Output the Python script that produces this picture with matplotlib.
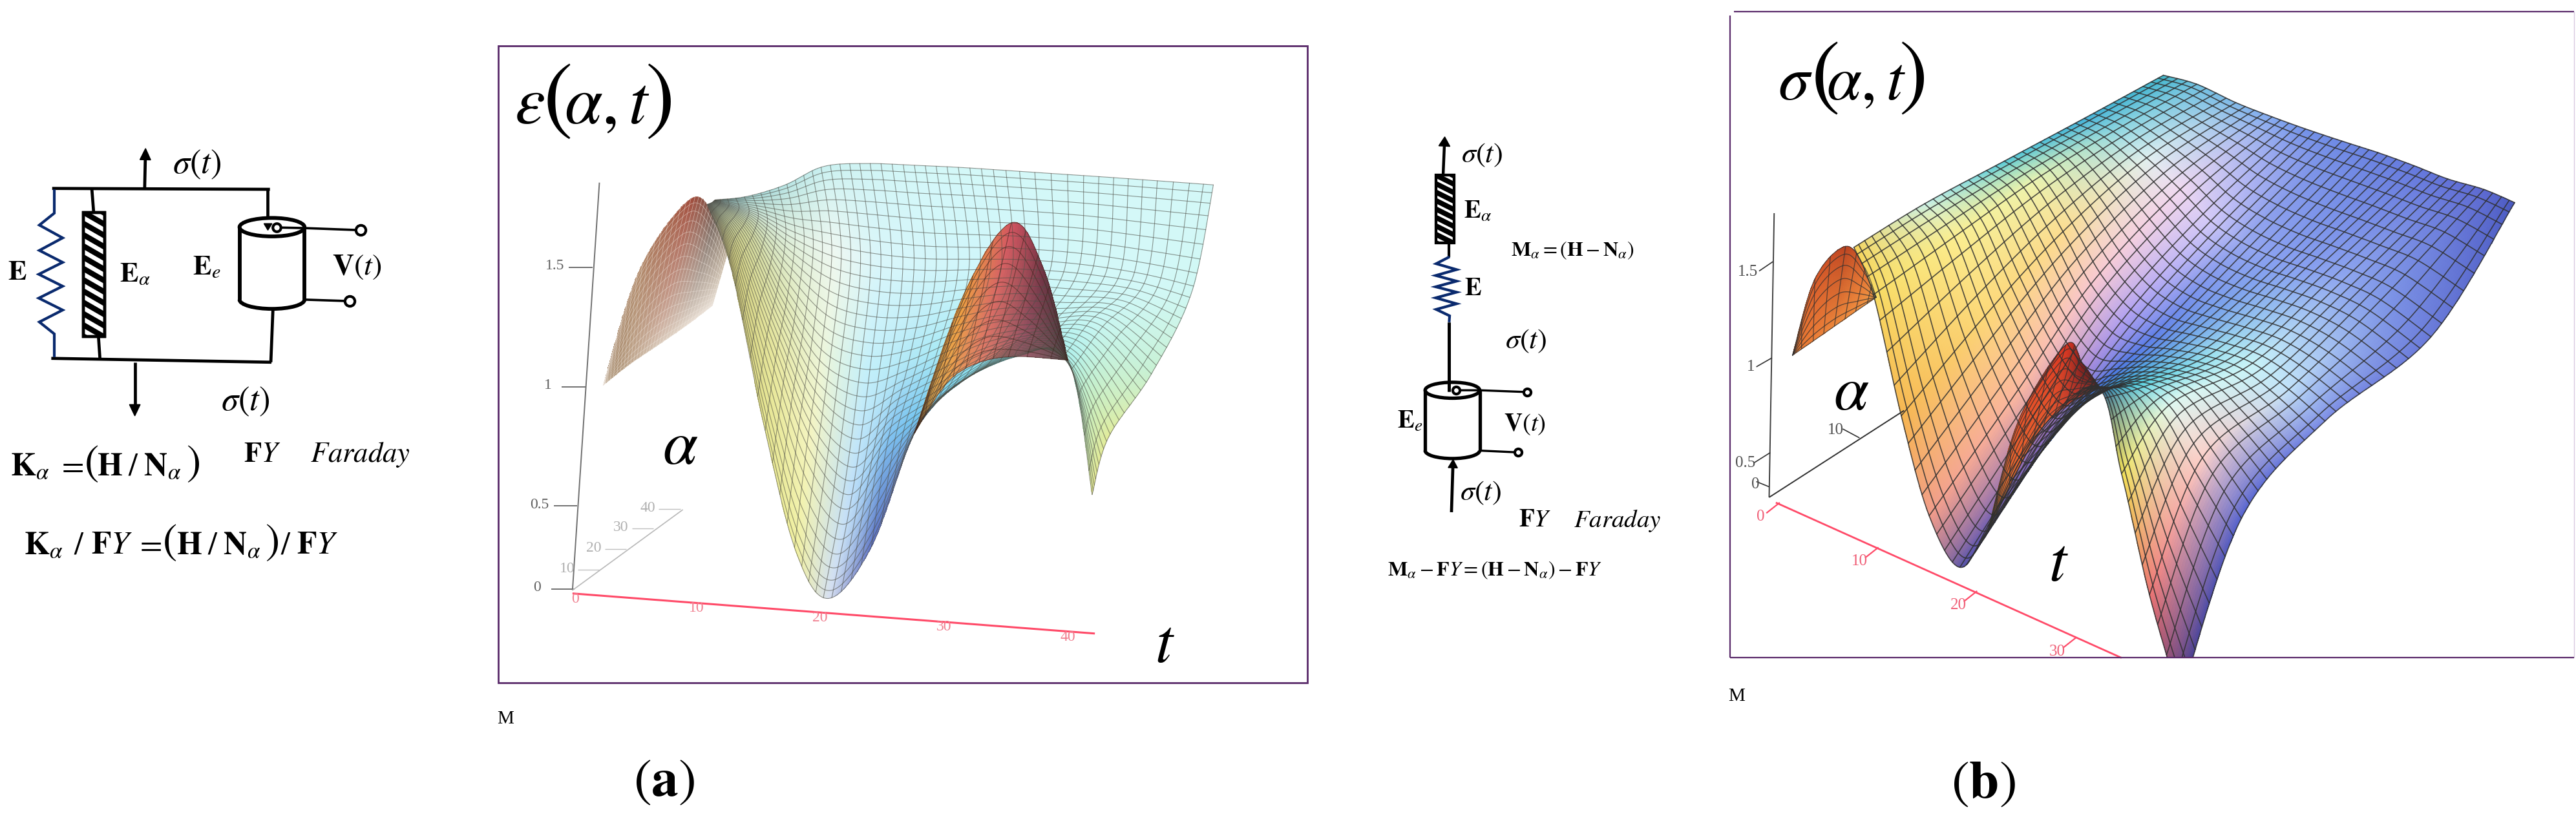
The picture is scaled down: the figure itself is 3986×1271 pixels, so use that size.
import numpy as np
import matplotlib
matplotlib.use("Agg")
import matplotlib.pyplot as plt
from matplotlib.colors import to_rgb
from matplotlib.patches import Rectangle, Ellipse, Arc

W, H = 3986, 1271

# surface (a), rows go front -> back, columns t small -> large
a_main_x = [[425, 470, 530, 590, 650, 730, 810, 880, 1000, 1095, 1140],
            [430, 480, 550, 615, 690, 760, 830, 900, 1010, 1100, 1170],
            [435, 500, 570, 640, 720, 800, 880, 960, 1050, 1150, 1250],
            [438, 510, 585, 660, 740, 830, 920, 1010, 1120, 1230, 1325],
            [440, 500, 570, 640, 720, 810, 900, 1000, 1130, 1250, 1365]]
a_main_y = [[378, 520, 860, 1140, 1243, 1130, 880, 780, 712, 720, 1015],
            [376, 470, 700, 900, 1000, 900, 830, 760, 690, 720, 890],
            [373, 430, 580, 700, 740, 720, 680, 650, 640, 640, 750],
            [370, 395, 445, 480, 500, 510, 510, 510, 520, 540, 570],
            [368, 360, 335, 295, 288, 292, 297, 305, 315, 325, 335]]
a_main_c = [['#7f6a60', '#c8c070', '#e6e58f', '#f0f0a0', '#d8e0f0', '#5a6cc0', '#7080c8', '#60c0d0', '#70d0d8', '#90e0d8', '#e8e890'],
            ['#80908a', '#d0d088', '#e8e8a0', '#f4f4c0', '#c0e0f8', '#80c0f0', '#70c8f0', '#80dcf0', '#90e8f0', '#b0f0e8', '#e4ec98'],
            ['#a0b8b0', '#d0d8a0', '#e0e8b8', '#ecf6dc', '#c4f0fa', '#b0e8f6', '#a8ecf6', '#b8f2f6', '#c0f6f6', '#c8f6f2', '#c8f0d0'],
            ['#a0c8c8', '#c8e0d0', '#e0f0e0', '#eef8f2', '#daf6fa', '#d4f6fa', '#d0f6fa', '#d0f6fa', '#d4f8f8', '#d4f8f8', '#d0f8f4'],
            ['#70b0b8', '#a0d0d0', '#b8e4e4', '#c8f0f0', '#d0f4f4', '#d4f8f8', '#d4f8f8', '#d4f8f8', '#d4f8f8', '#d4f8f8', '#d4f8f8']]

a_left_x = [[232, 280, 330, 385, 435], [232, 300, 395, 440, 462]]
a_left_y = [[775, 730, 690, 645, 600], [775, 520, 365, 410, 490]]
a_left_c = [['#a08868', '#c0a890', '#d8c8b8', '#e8dcd0', '#ece4dc'],
            ['#8f7050', '#b08868', '#a04838', '#706058', '#c0b098']]

a_lobe_x = [[810, 870, 930, 1000, 1095], [810, 900, 990, 1050, 1095]]
a_lobe_y = [[880, 770, 725, 712, 720], [880, 580, 418, 520, 720]]
a_lobe_c = [['#c0b060', '#e8a050', '#e08068', '#a86070', '#505050'],
            ['#e0b050', '#f0a040', '#d05060', '#6a3040', '#383838']]

# surface (b)
b_main_x = [[265, 300, 350, 400, 455, 505, 590, 700, 745, 795, 850],
            [392, 445, 500, 560, 610, 660, 710, 770, 830, 890, 960],
            [535, 585, 640, 690, 745, 800, 850, 915, 980, 1045, 1110],
            [678, 730, 790, 850, 905, 960, 1020, 1075, 1140, 1210, 1300],
            [820, 880, 950, 1015, 1075, 1140, 1205, 1270, 1330, 1395, 1450]]
b_main_y = [[470, 560, 790, 980, 1078, 1000, 830, 735, 900, 1130, 1330],
            [387, 450, 600, 740, 820, 780, 745, 730, 770, 870, 985],
            [306, 345, 440, 540, 610, 640, 650, 665, 690, 740, 800],
            [225, 250, 300, 360, 420, 460, 490, 510, 535, 570, 640],
            [143, 160, 195, 222, 245, 268, 290, 315, 340, 360, 385]]
b_main_c = [['#f8d458', '#f8da60', '#f6b450', '#f09a8a', '#5a55a8', '#3a40a8', '#3c50c0', '#1f5a9a', '#f4e050', '#ea7070', '#40307a'],
            ['#c8f0e8', '#fbee90', '#fcd878', '#fbb8a0', '#9a70c0', '#3c70e0', '#30a0d8', '#50d0e0', '#e0f8f0', '#fcd0c8', '#5060d0'],
            ['#50c8d8', '#ecf4b0', '#fcdc90', '#f8c8d0', '#b0a0f0', '#6080e8', '#70a8e8', '#a0e0f0', '#c8f4f8', '#c0e0f8', '#7888e4'],
            ['#40b0d8', '#90d8e0', '#e0f0f0', '#f0d8f0', '#d0c8f8', '#98a8f0', '#88a0f0', '#88a0f0', '#90a8f0', '#8098e8', '#6878d8'],
            ['#40b8c8', '#70c0e0', '#80b8e8', '#80a8f0', '#7090e8', '#6c88e4', '#6880e0', '#6478dc', '#6070d8', '#5c68d0', '#4858c0']]

b_left_x = [[155, 192, 230, 268, 305], [155, 195, 250, 285, 305]]
b_left_y = [[675, 648, 620, 592, 565], [675, 530, 468, 510, 565]]
b_left_c = [['#e87830', '#ec8038', '#ee8a3c', '#f09040', '#f0a048'],
            ['#e87830', '#d85828', '#b84020', '#e06c30', '#f0a048']]

b_lobe_x = [[505, 555, 605, 655, 705], [505, 560, 645, 675, 705]]
b_lobe_y = [[1010, 900, 810, 765, 735], [1010, 800, 655, 690, 735]]
b_lobe_c = [['#d88030', '#e86a30', '#e86030', '#d84030', '#803030'],
            ['#e88838', '#e85028', '#d83020', '#701c1c', '#302020']]

# axis ticks
a_z_vals = ['1.5', '1', '0.5', '0']
a_z_y = [516, 778, 1040, 1222]
a_z_x = [168, 155, 140, 135]
a_back_vals = ['10', '20', '30', '40']
a_back_x = [165, 215, 265, 315]
a_back_y = [1178, 1133, 1087, 1045]
a_t_vals = ['0', '10', '20', '30', '40']
a_t_x = [180, 405, 635, 865, 1095]
a_t_y = [1245, 1265, 1285, 1305, 1328]

b_z_vals = ['1.5', '1', '0.5', '0']
b_z_x = [75, 80, 70, 88]
b_z_y = [517, 697, 880, 920]
b_t_vals = ['0', '10', '20', '30']
b_t_x = [98, 275, 452, 630]
b_t_y = [982, 1067, 1150, 1238]

# circuit (left)
c1_spring_x = [182, 182, 132, 210, 132, 210, 130, 210, 130, 210, 132, 182, 182]
c1_spring_y = [245, 325, 365, 408, 450, 490, 530, 570, 610, 650, 690, 730, 808]
# circuit (middle)
c2_spring_x = [508, 510, 452, 540, 450, 540, 450, 540, 450, 540, 452, 510, 508]
c2_spring_y = [140, 195, 222, 245, 268, 290, 312, 333, 355, 378, 400, 425, 450]

plt.rcParams['mathtext.fontset'] = 'stix'
plt.rcParams['font.family'] = ['Liberation Serif', 'DejaVu Serif']

FRAME = '#5a2a6a'
WIRE = 'black'
SPRING = '#0a2a6e'
RED = '#ff4a68'
GREY = '#707070'

fig = plt.figure(figsize=(W / 100, H / 100), dpi=100, facecolor='white')


def panel(x, y, w, h):
    # axes over a crop of the picture, each side runs 0..1560
    ax = fig.add_axes([x / W, 1 - (y + h) / H, w / W, h / H])
    ax.set_xlim(0, 1560)
    ax.set_ylim(1560, 0)
    ax.axis('off')
    ax.patch.set_alpha(0)
    return ax


def cr_resample(table, n, axis):
    # catmull-rom along one axis of the table
    t = np.moveaxis(np.asarray(table, float), axis, 0)
    m = t.shape[0]
    s = np.linspace(0, m - 1, n)
    i = np.clip(np.floor(s).astype(int), 0, m - 2)
    f = s - i
    shape = (-1,) + (1,) * (t.ndim - 1)
    f = f.reshape(shape)
    p0 = t[np.clip(i - 1, 0, m - 1)]
    p1 = t[i]
    p2 = t[i + 1]
    p3 = t[np.clip(i + 2, 0, m - 1)]
    out = 0.5 * (2 * p1 + (p2 - p0) * f + (2 * p0 - 5 * p1 + 4 * p2 - p3) * f ** 2
                 + (3 * p1 - p0 - 3 * p2 + p3) * f ** 3)
    return np.moveaxis(out, 0, axis)


def lin_resample(table, n, axis):
    t = np.moveaxis(np.asarray(table, float), axis, 0)
    m = t.shape[0]
    s = np.linspace(0, m - 1, n)
    i = np.clip(np.floor(s).astype(int), 0, m - 2)
    f = (s - i).reshape((-1,) + (1,) * (t.ndim - 1))
    out = t[i] * (1 - f) + t[i + 1] * f
    return np.moveaxis(out, 0, axis)


def sheet(ax, xs, ys, cs, nu, nv, line='#303030', lw=0.8, alpha=0.8, clip=None):
    ov = 6
    fu, fv = nu * ov + 1, nv * ov + 1
    X = cr_resample(cr_resample(xs, fu, 1), fv, 0)
    Y = cr_resample(cr_resample(ys, fu, 1), fv, 0)
    rgb = np.array([[to_rgb(c) for c in row] for row in cs])
    C = lin_resample(lin_resample(rgb, fu, 1), fv, 0)
    C = np.clip(C[:-1, :-1], 0, 1)
    m = ax.pcolormesh(X, Y, C, shading='flat', antialiased=False, linewidth=0, rasterized=False)
    arts = [m]
    for i in range(0, fv, ov):
        arts += ax.plot(X[i], Y[i], color=line, lw=lw, alpha=alpha, solid_capstyle='round')
    for j in range(0, fu, ov):
        arts += ax.plot(X[:, j], Y[:, j], color=line, lw=lw, alpha=alpha, solid_capstyle='round')
    if clip is not None:
        for art in arts:
            art.set_clip_path(clip)


def txt(ax, x, y, s, size, **kw):
    ax.text(x, y, s, fontsize=size, ha='center', va='center', clip_on=False, **kw)


def parts(ax, y, items):
    # one formula set piece by piece on a common baseline, so the brackets can be taller
    for x, s, size in items:
        ax.text(x, y, s, fontsize=size, ha='center', va='baseline', clip_on=False)


def wire(ax, x, y, lw=3.4, color=WIRE):
    ax.plot(x, y, color=color, lw=lw, solid_capstyle='butt', solid_joinstyle='miter', clip_on=False)


def arrow(ax, x0, y0, x1, y1, hw, hl, lw=3.4):
    d = np.array([x1 - x0, y1 - y0], float)
    d /= np.hypot(*d)
    n = np.array([-d[1], d[0]])
    tip = np.array([x1, y1])
    base = tip - d * hl
    wire(ax, [x0, base[0]], [y0, base[1]], lw=lw)
    tri = np.array([tip, base + n * hw, base - n * hw])
    ax.fill(tri[:, 0], tri[:, 1], color='black', clip_on=False)


def dashpot(ax, x0, y0, x1, y1, nstripe, lw=3.2):
    rect = Rectangle((x0, y0), x1 - x0, y1 - y0, fc='white', ec='black', lw=lw, clip_on=False, zorder=3)
    ax.add_patch(rect)
    dy = (y1 - y0) / nstripe
    for k in range(-1, nstripe + 1):
        ln, = ax.plot([x0, x1], [y0 + k * dy, y0 + (k + 1.1) * dy], color='black', lw=lw * 1.9)
        ln.set_clip_path(rect)
        ln.set_zorder(3.1)
    ax.add_patch(Rectangle((x0, y0), x1 - x0, y1 - y0, fc='none', ec='black', lw=lw, clip_on=False, zorder=3.2))


def cylinder(ax, cx, top, bot, w, h, lw=4.2):
    ax.add_patch(Ellipse((cx, top), w, h, fc='white', ec='black', lw=lw, clip_on=False))
    wire(ax, [cx - w / 2, cx - w / 2], [top, bot], lw=lw)
    wire(ax, [cx + w / 2, cx + w / 2], [top, bot], lw=lw)
    ax.add_patch(Arc((cx, bot), w, h, theta1=0, theta2=180, ec='black', lw=lw, clip_on=False))


def node(ax, x, y, ms=11):
    ax.plot([x], [y], 'o', ms=ms, mfc='white', mec='black', mew=3, clip_on=False, zorder=5)


# left circuit
ax1 = panel(0, 180, 720, 720)
wire(ax1, [175, 905], [242, 245])
wire(ax1, [898, 898], [245, 345])
wire(ax1, [172, 910], [812, 825])
wire(ax1, [915, 908], [650, 825])
wire(ax1, [308, 314], [245, 322])
wire(ax1, [330, 335], [738, 812])
arrow(ax1, 485, 240, 488, 108, 18, 38)
arrow(ax1, 452, 825, 452, 1005, 18, 38)
wire(ax1, c1_spring_x, c1_spring_y, lw=3.0, color=SPRING)
dashpot(ax1, 280, 322, 352, 738, 11)
cylinder(ax1, 912, 372, 615, 218, 62)
ax1.fill([885, 912, 898], [360, 360, 382], color='black')
wire(ax1, [927, 1020, 1208], [373, 375, 382], lw=2.6)
wire(ax1, [1020, 1172], [615, 620], lw=2.6)
node(ax1, 927, 373, 9)
node(ax1, 1208, 381)
node(ax1, 1172, 620)
txt(ax1, 660, 162, r'$\sigma\left(t\right)$', 38)
txt(ax1, 822, 958, r'$\sigma\left(t\right)$', 38)
txt(ax1, 57, 527, r'$\mathbf{E}$', 31)
txt(ax1, 452, 532, r'$\mathbf{E}_{\alpha}$', 31)
txt(ax1, 692, 510, r'$\mathbf{E}_{e}$', 31)
txt(ax1, 1197, 507, r'$\mathbf{V}\left(t\right)$', 33)
parts(ax1, 1203, [(101, r'$\mathbf{K}_{\alpha}$', 36), (235, r'$=$', 36), (305, r'$($', 48),
                  (467, r'$\mathbf{H}\;/\;\mathbf{N}_{\alpha}$', 36), (647, r'$)$', 48)])
txt(ax1, 878, 1135, r'$\mathbf{F}Y$', 32)
txt(ax1, 1207, 1135, r'$Faraday$', 32)
parts(ax1, 1467, [(147, r'$\mathbf{K}_{\alpha}$', 36), (265, r'$/$', 36), (374, r'$\mathbf{F}Y$', 36),
                  (498, r'$=$', 36), (569, r'$($', 48), (733, r'$\mathbf{H}\;/\;\mathbf{N}_{\alpha}$', 36),
                  (912, r'$)$', 48), (959, r'$/$', 36), (1064, r'$\mathbf{F}Y$', 36)])

# surface (a)
axa = panel(740, 50, 1300, 1100)
axa.add_patch(Rectangle((37, 30), 1503, 1398, fc='white', ec=FRAME, lw=2))
wire(axa, [225, 175], [330, 1225], lw=1.4, color=GREY)
for s, x, y in zip(a_z_vals, a_z_x, a_z_y):
    wire(axa, [x, x + 44], [y, y], lw=1.4, color=GREY)
    txt(axa, x - 26, y - 3, s, 17, color='#606060', stretch='condensed')
wire(axa, [175, 380], [1225, 1048], lw=1.2, color='#b8b8b8')
for s, x, y in zip(a_back_vals, a_back_x, a_back_y):
    wire(axa, [x + 20, x + 60], [y + 2, y + 2], lw=1.0, color='#c0c0c0')
    txt(axa, x, y, s, 17, color='#b0b0b0')
wire(axa, [175, 1145], [1232, 1320], lw=2.2, color=RED)
for s, x, y in zip(a_t_vals, a_t_x, a_t_y):
    txt(axa, x, y, s, 17, color='#f08090')
sheet(axa, a_left_x, a_left_y, a_left_c, 34, 14, line='#f0e8e0', lw=0.5, alpha=0.6)
sheet(axa, a_main_x, a_main_y, a_main_c, 44, 34, line='#505048', lw=0.8, alpha=0.6)
sheet(axa, a_lobe_x, a_lobe_y, a_lobe_c, 10, 9, line='#402820', lw=0.8, alpha=0.6)
parts(axa, 200, [(95, r'$\varepsilon$', 76), (146, r'$($', 98), (240, r'$\alpha,t$', 76), (334, r'$)$', 98)])
txt(axa, 375, 915, r'$\alpha$', 70)
txt(axa, 1275, 1350, r'$t$', 70)
txt(axa, 50, 1507, 'M', 21)

# middle circuit, drawn above its panel too
ax2 = panel(2060, 320, 560, 620)
arrow(ax2, 482, -123, 489, -272, 24, 36, lw=3.2)
dashpot(ax2, 450, -123, 530, 140, 8, lw=3.0)
wire(ax2, [508, 508], [140, 195], lw=3.0)
wire(ax2, c2_spring_x[1:], c2_spring_y[1:], lw=3.0, color=SPRING)
wire(ax2, [508, 508], [450, 720], lw=3.4)
cylinder(ax2, 522, 715, 950, 235, 62, lw=3.8)
wire(ax2, [508, 508], [450, 720], lw=3.4)
wire(ax2, [537, 640, 845], [715, 715, 722], lw=2.4)
wire(ax2, [640, 805], [950, 957], lw=2.4)
node(ax2, 537, 715, 8)
node(ax2, 845, 722, 8)
node(ax2, 805, 957, 8)
arrow(ax2, 518, 1190, 525, 985, 20, 32)
txt(ax2, 648, -201, r'$\sigma\left(t\right)$', 32)
txt(ax2, 840, 525, r'$\sigma\left(t\right)$', 32)
txt(ax2, 645, 1115, r'$\sigma\left(t\right)$', 32)
txt(ax2, 632, 22, r'$\mathbf{E}_{\alpha}$', 28)
txt(ax2, 610, 320, r'$\mathbf{E}$', 28)
txt(ax2, 340, 840, r'$\mathbf{E}_{e}$', 28)
txt(ax2, 835, 848, r'$\mathbf{V}\left(t\right)$', 28)
txt(ax2, 1040, 170, r'$\mathbf{M}_{\alpha}=\left(\mathbf{H}-\mathbf{N}_{\alpha}\right)$', 23)
txt(ax2, 878, 1222, r'$\mathbf{F}Y$', 28)
txt(ax2, 1232, 1222, r'$Faraday$', 28)
txt(ax2, 705, 1415, r'$\mathbf{M}_{\alpha}-\mathbf{F}Y=\left(\mathbf{H}-\mathbf{N}_{\alpha}\right)-\mathbf{F}Y$', 23)

# surface (b)
axb = panel(2640, 0, 1346, 1271)
wire(axb, [43, 43], [30, 1250], lw=1.6, color=FRAME)
wire(axb, [50, 1556], [22, 22], lw=1.6, color=FRAME)
wire(axb, [1556, 1556], [22, 1250], lw=1.0, color='#d8c8e0')
wire(axb, [122, 113], [405, 945], lw=1.4, color='#404040')
wire(axb, [113, 355], [945, 780], lw=1.4, color='#303030')
wire(axb, [245, 275], [815, 832], lw=1.2, color='#303030')
txt(axb, 232, 817, '10', 18, color='#505050')
wire(axb, [120, 95], [497, 515], lw=1.2, color='#303030')
wire(axb, [118, 90], [680, 697], lw=1.2, color='#303030')
wire(axb, [115, 85], [860, 880], lw=1.2, color='#303030')
wire(axb, [113, 90], [925, 915], lw=1.2, color='#303030')
for s, x, y in zip(b_z_vals, b_z_x, b_z_y):
    txt(axb, x, y, s, 18, color='#505050')
wire(axb, [125, 745], [955, 1250], lw=2.0, color=RED)
for s, x, y in zip(b_t_vals, b_t_x, b_t_y):
    txt(axb, x, y, s, 18, color='#f06078')
    wire(axb, [x + 34, x + 10], [y - 27, y - 7], lw=1.6, color=RED)
clip_b = Rectangle((43, 22), 1513, 1228, transform=axb.transData)
sheet(axb, b_left_x, b_left_y, b_left_c, 8, 7, lw=0.9, alpha=0.75)
sheet(axb, b_main_x, b_main_y, b_main_c, 40, 36, lw=1.2, alpha=0.85, clip=clip_b)
sheet(axb, b_lobe_x, b_lobe_y, b_lobe_c, 10, 8, lw=0.9, alpha=0.8)
wire(axb, [43, 1556], [1250, 1250], lw=1.6, color=FRAME)
parts(axb, 189, [(160, r'$\sigma$', 70), (212, r'$($', 96), (287, r'$\alpha,t$', 70), (368, r'$)$', 96)])
txt(axb, 260, 750, r'$\alpha$', 70)
txt(axb, 632, 1075, r'$t$', 70)
txt(axb, 55, 1323, 'M', 21)
txt(axb, 497, 1492, r'$(\mathbf{b})$', 60)

# caption (a)
fig.text(1028 / W, 1 - 1213 / H, r'$(\mathbf{a})$', fontsize=60, ha='center', va='center')

fig.savefig('out.png', dpi=100)
